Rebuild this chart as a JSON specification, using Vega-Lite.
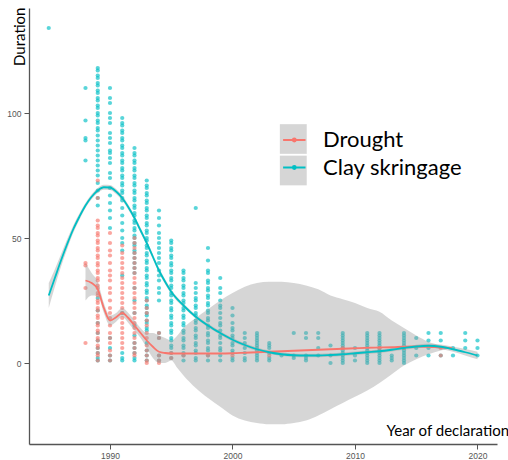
{
"$schema":"https://vega.github.io/schema/vega-lite/v6.json",
"width":468,"height":436,
"autosize":{"type":"none"},
"padding":{"left":29,"top":8,"right":11,"bottom":16},
"background":"white",
"config":{"view":{"stroke":null},
"axis":{"grid":false,"labelFont":"Liberation Sans","labelFontSize":8.5,"labelColor":"#555555","tickColor":"#555555","tickSize":5,"domainColor":"#555555","domainWidth":1.3,"titleFont":"Lato","titleFontSize":15,"titleFontWeight":"normal","titleColor":"#000000"},
"axisX":{"labelPadding":2,"titleAlign":"left","titleBaseline":"alphabetic","titleX":357,"titleY":-9,"titleAngle":0},
"axisY":{"labelPadding":3,"titleAngle":270,"titleAlign":"right","titleBaseline":"alphabetic","titleX":-5,"titleY":-1}
},
"datasets":{
"fits":[
{"year":1988,"series":"Drought","fit":33,"lo":25,"hi":40},
{"year":1988.5,"series":"Drought","fit":32,"lo":27,"hi":36},
{"year":1989,"series":"Drought","fit":29.5,"lo":27,"hi":32.5},
{"year":1989.5,"series":"Drought","fit":22,"lo":20,"hi":24},
{"year":1990,"series":"Drought","fit":17,"lo":15,"hi":19},
{"year":1990.5,"series":"Drought","fit":18.3,"lo":16.5,"hi":20},
{"year":1991,"series":"Drought","fit":20,"lo":18.5,"hi":22},
{"year":1991.5,"series":"Drought","fit":18,"lo":16,"hi":20},
{"year":1992,"series":"Drought","fit":15,"lo":13,"hi":17},
{"year":1992.5,"series":"Drought","fit":12,"lo":10,"hi":14},
{"year":1993,"series":"Drought","fit":9,"lo":6,"hi":12},
{"year":1993.5,"series":"Drought","fit":6.5,"lo":2,"hi":12},
{"year":1994,"series":"Drought","fit":4.5,"lo":0,"hi":11},
{"year":1994.5,"series":"Drought","fit":4,"lo":0,"hi":10},
{"year":1995,"series":"Drought","fit":3.8,"lo":1,"hi":9},
{"year":1995.5,"series":"Drought","fit":3.8,"lo":-2,"hi":11},
{"year":1996,"series":"Drought","fit":3.8,"lo":-5,"hi":14},
{"year":1997,"series":"Drought","fit":3.8,"lo":-10,"hi":18},
{"year":1998,"series":"Drought","fit":3.8,"lo":-14,"hi":21.5},
{"year":1999,"series":"Drought","fit":3.8,"lo":-17.5,"hi":25},
{"year":2000,"series":"Drought","fit":3.9,"lo":-21,"hi":28},
{"year":2001,"series":"Drought","fit":4.1,"lo":-23,"hi":30.5},
{"year":2002,"series":"Drought","fit":4.3,"lo":-24,"hi":32},
{"year":2003,"series":"Drought","fit":4.5,"lo":-24.5,"hi":32.5},
{"year":2004,"series":"Drought","fit":4.7,"lo":-24.5,"hi":32.5},
{"year":2005,"series":"Drought","fit":4.9,"lo":-24,"hi":32},
{"year":2006,"series":"Drought","fit":5.1,"lo":-23,"hi":31},
{"year":2007,"series":"Drought","fit":5.3,"lo":-21,"hi":29.5},
{"year":2008,"series":"Drought","fit":5.5,"lo":-18.5,"hi":27},
{"year":2009,"series":"Drought","fit":5.7,"lo":-16,"hi":25.5},
{"year":2010,"series":"Drought","fit":5.9,"lo":-13.5,"hi":24},
{"year":2011,"series":"Drought","fit":6.1,"lo":-11,"hi":22},
{"year":2012,"series":"Drought","fit":6.2,"lo":-8,"hi":20.5},
{"year":2013,"series":"Drought","fit":6.3,"lo":-4.5,"hi":17},
{"year":2014,"series":"Drought","fit":6.5,"lo":-1,"hi":14},
{"year":2015,"series":"Drought","fit":6.6,"lo":1.5,"hi":11},
{"year":2016,"series":"Drought","fit":6.5,"lo":3.5,"hi":8.5},
{"year":2017,"series":"Drought","fit":6.2,"lo":5,"hi":7},
{"year":2017.9,"series":"Drought","fit":6,"lo":6,"hi":6},
{"year":1985,"series":"Clay skringage","fit":27,"lo":22,"hi":32},
{"year":1985.5,"series":"Clay skringage","fit":34,"lo":30.5,"hi":37.5},
{"year":1986,"series":"Clay skringage","fit":41,"lo":38.5,"hi":43.5},
{"year":1986.5,"series":"Clay skringage","fit":47.5,"lo":45.5,"hi":49.5},
{"year":1987,"series":"Clay skringage","fit":53.5,"lo":52,"hi":55},
{"year":1987.5,"series":"Clay skringage","fit":58.5,"lo":57.2,"hi":59.8},
{"year":1988,"series":"Clay skringage","fit":63,"lo":62,"hi":64},
{"year":1988.5,"series":"Clay skringage","fit":66.5,"lo":65.5,"hi":67.5},
{"year":1989,"series":"Clay skringage","fit":69,"lo":68,"hi":70},
{"year":1989.5,"series":"Clay skringage","fit":70.3,"lo":69.3,"hi":71.3},
{"year":1990,"series":"Clay skringage","fit":70.2,"lo":69.2,"hi":71.2},
{"year":1990.5,"series":"Clay skringage","fit":68.6,"lo":67.6,"hi":69.6},
{"year":1991,"series":"Clay skringage","fit":66,"lo":65,"hi":67},
{"year":1991.5,"series":"Clay skringage","fit":62.3,"lo":61.3,"hi":63.3},
{"year":1992,"series":"Clay skringage","fit":58,"lo":57,"hi":59},
{"year":1992.5,"series":"Clay skringage","fit":53,"lo":52,"hi":54},
{"year":1993,"series":"Clay skringage","fit":48,"lo":47,"hi":49},
{"year":1993.5,"series":"Clay skringage","fit":42.5,"lo":41.5,"hi":43.5},
{"year":1994,"series":"Clay skringage","fit":37,"lo":36,"hi":38},
{"year":1994.5,"series":"Clay skringage","fit":32.5,"lo":31.5,"hi":33.5},
{"year":1995,"series":"Clay skringage","fit":28.5,"lo":27.6,"hi":29.4},
{"year":1996,"series":"Clay skringage","fit":23,"lo":22.2,"hi":23.8},
{"year":1997,"series":"Clay skringage","fit":18.5,"lo":17.8,"hi":19.2},
{"year":1998,"series":"Clay skringage","fit":15,"lo":14.3,"hi":15.7},
{"year":1999,"series":"Clay skringage","fit":12,"lo":11.3,"hi":12.7},
{"year":2000,"series":"Clay skringage","fit":9.3,"lo":8.6,"hi":10},
{"year":2001,"series":"Clay skringage","fit":7.2,"lo":6.5,"hi":7.9},
{"year":2002,"series":"Clay skringage","fit":5.5,"lo":4.8,"hi":6.2},
{"year":2003,"series":"Clay skringage","fit":4.3,"lo":3.6,"hi":5},
{"year":2004,"series":"Clay skringage","fit":3.5,"lo":2.8,"hi":4.2},
{"year":2005,"series":"Clay skringage","fit":3.1,"lo":2.4,"hi":3.8},
{"year":2006,"series":"Clay skringage","fit":3,"lo":2.3,"hi":3.7},
{"year":2007,"series":"Clay skringage","fit":3,"lo":2.3,"hi":3.7},
{"year":2008,"series":"Clay skringage","fit":3.2,"lo":2.5,"hi":3.9},
{"year":2009,"series":"Clay skringage","fit":3.5,"lo":2.8,"hi":4.2},
{"year":2010,"series":"Clay skringage","fit":3.9,"lo":3.2,"hi":4.6},
{"year":2011,"series":"Clay skringage","fit":4.3,"lo":3.6,"hi":5},
{"year":2012,"series":"Clay skringage","fit":4.7,"lo":4,"hi":5.4},
{"year":2013,"series":"Clay skringage","fit":5.3,"lo":4.6,"hi":6},
{"year":2014,"series":"Clay skringage","fit":6,"lo":5.3,"hi":6.7},
{"year":2015,"series":"Clay skringage","fit":6.6,"lo":5.9,"hi":7.3},
{"year":2016,"series":"Clay skringage","fit":6.9,"lo":6.1,"hi":7.7},
{"year":2017,"series":"Clay skringage","fit":6.5,"lo":5.6,"hi":7.4},
{"year":2018,"series":"Clay skringage","fit":5.5,"lo":4.5,"hi":6.5},
{"year":2019,"series":"Clay skringage","fit":4.3,"lo":3,"hi":5.6},
{"year":2020,"series":"Clay skringage","fit":3,"lo":1.5,"hi":4.5}
],
"pts":[
{"year":1985,"duration":134,"type":"Clay skringage"},
{"year":1988,"duration":110,"type":"Clay skringage"},{"year":1988,"duration":97,"type":"Clay skringage"},{"year":1988,"duration":90,"type":"Clay skringage"},{"year":1988,"duration":89,"type":"Clay skringage"},{"year":1988,"duration":81,"type":"Clay skringage"},
{"year":1989,"duration":118,"type":"Clay skringage"},{"year":1989,"duration":117,"type":"Clay skringage"},{"year":1989,"duration":115,"type":"Clay skringage"},{"year":1989,"duration":114,"type":"Clay skringage"},{"year":1989,"duration":112,"type":"Clay skringage"},{"year":1989,"duration":111,"type":"Clay skringage"},{"year":1989,"duration":109,"type":"Clay skringage"},{"year":1989,"duration":108,"type":"Clay skringage"},{"year":1989,"duration":106,"type":"Clay skringage"},{"year":1989,"duration":105,"type":"Clay skringage"},{"year":1989,"duration":103,"type":"Clay skringage"},{"year":1989,"duration":102,"type":"Clay skringage"},{"year":1989,"duration":100,"type":"Clay skringage"},{"year":1989,"duration":99,"type":"Clay skringage"},{"year":1989,"duration":97,"type":"Clay skringage"},{"year":1989,"duration":96,"type":"Clay skringage"},{"year":1989,"duration":94,"type":"Clay skringage"},{"year":1989,"duration":93,"type":"Clay skringage"},{"year":1989,"duration":91,"type":"Clay skringage"},{"year":1989,"duration":89,"type":"Clay skringage"},{"year":1989,"duration":87,"type":"Clay skringage"},{"year":1989,"duration":85,"type":"Clay skringage"},{"year":1989,"duration":83,"type":"Clay skringage"},{"year":1989,"duration":81,"type":"Clay skringage"},{"year":1989,"duration":79,"type":"Clay skringage"},{"year":1989,"duration":77,"type":"Clay skringage"},{"year":1989,"duration":75,"type":"Clay skringage"},{"year":1989,"duration":72,"type":"Clay skringage"},{"year":1989,"duration":69,"type":"Clay skringage"},{"year":1989,"duration":66,"type":"Clay skringage"},{"year":1989,"duration":63,"type":"Clay skringage"},{"year":1989,"duration":26,"type":"Clay skringage"},{"year":1989,"duration":21,"type":"Clay skringage"},{"year":1989,"duration":16,"type":"Clay skringage"},{"year":1989,"duration":12,"type":"Clay skringage"},{"year":1989,"duration":9,"type":"Clay skringage"},{"year":1989,"duration":6,"type":"Clay skringage"},{"year":1989,"duration":4,"type":"Clay skringage"},{"year":1989,"duration":2,"type":"Clay skringage"},{"year":1989,"duration":1,"type":"Clay skringage"},
{"year":1990,"duration":110,"type":"Clay skringage"},{"year":1990,"duration":106,"type":"Clay skringage"},{"year":1990,"duration":104,"type":"Clay skringage"},{"year":1990,"duration":100,"type":"Clay skringage"},{"year":1990,"duration":98,"type":"Clay skringage"},{"year":1990,"duration":96,"type":"Clay skringage"},{"year":1990,"duration":92,"type":"Clay skringage"},{"year":1990,"duration":90,"type":"Clay skringage"},{"year":1990,"duration":88,"type":"Clay skringage"},{"year":1990,"duration":85,"type":"Clay skringage"},{"year":1990,"duration":84,"type":"Clay skringage"},{"year":1990,"duration":82,"type":"Clay skringage"},{"year":1990,"duration":80,"type":"Clay skringage"},{"year":1990,"duration":76,"type":"Clay skringage"},{"year":1990,"duration":74,"type":"Clay skringage"},{"year":1990,"duration":70,"type":"Clay skringage"},{"year":1990,"duration":67,"type":"Clay skringage"},{"year":1990,"duration":64,"type":"Clay skringage"},{"year":1990,"duration":61,"type":"Clay skringage"},{"year":1990,"duration":58,"type":"Clay skringage"},{"year":1990,"duration":54,"type":"Clay skringage"},{"year":1990,"duration":10,"type":"Clay skringage"},{"year":1990,"duration":6,"type":"Clay skringage"},{"year":1990,"duration":3,"type":"Clay skringage"},{"year":1990,"duration":1,"type":"Clay skringage"},
{"year":1991,"duration":98,"type":"Clay skringage"},{"year":1991,"duration":96,"type":"Clay skringage"},{"year":1991,"duration":95,"type":"Clay skringage"},{"year":1991,"duration":93,"type":"Clay skringage"},{"year":1991,"duration":92,"type":"Clay skringage"},{"year":1991,"duration":90,"type":"Clay skringage"},{"year":1991,"duration":89,"type":"Clay skringage"},{"year":1991,"duration":87,"type":"Clay skringage"},{"year":1991,"duration":86,"type":"Clay skringage"},{"year":1991,"duration":84,"type":"Clay skringage"},{"year":1991,"duration":83,"type":"Clay skringage"},{"year":1991,"duration":81,"type":"Clay skringage"},{"year":1991,"duration":80,"type":"Clay skringage"},{"year":1991,"duration":78,"type":"Clay skringage"},{"year":1991,"duration":77,"type":"Clay skringage"},{"year":1991,"duration":75,"type":"Clay skringage"},{"year":1991,"duration":74,"type":"Clay skringage"},{"year":1991,"duration":72,"type":"Clay skringage"},{"year":1991,"duration":71,"type":"Clay skringage"},{"year":1991,"duration":69,"type":"Clay skringage"},{"year":1991,"duration":68,"type":"Clay skringage"},{"year":1991,"duration":66,"type":"Clay skringage"},{"year":1991,"duration":65,"type":"Clay skringage"},{"year":1991,"duration":62,"type":"Clay skringage"},{"year":1991,"duration":59,"type":"Clay skringage"},{"year":1991,"duration":56,"type":"Clay skringage"},{"year":1991,"duration":53,"type":"Clay skringage"},{"year":1991,"duration":50,"type":"Clay skringage"},{"year":1991,"duration":48,"type":"Clay skringage"},{"year":1991,"duration":45,"type":"Clay skringage"},{"year":1991,"duration":35,"type":"Clay skringage"},{"year":1991,"duration":20,"type":"Clay skringage"},{"year":1991,"duration":4,"type":"Clay skringage"},{"year":1991,"duration":2,"type":"Clay skringage"},{"year":1991,"duration":1,"type":"Clay skringage"},
{"year":1992,"duration":86,"type":"Clay skringage"},{"year":1992,"duration":84,"type":"Clay skringage"},{"year":1992,"duration":83,"type":"Clay skringage"},{"year":1992,"duration":81,"type":"Clay skringage"},{"year":1992,"duration":80,"type":"Clay skringage"},{"year":1992,"duration":78,"type":"Clay skringage"},{"year":1992,"duration":77,"type":"Clay skringage"},{"year":1992,"duration":75,"type":"Clay skringage"},{"year":1992,"duration":74,"type":"Clay skringage"},{"year":1992,"duration":72,"type":"Clay skringage"},{"year":1992,"duration":71,"type":"Clay skringage"},{"year":1992,"duration":69,"type":"Clay skringage"},{"year":1992,"duration":68,"type":"Clay skringage"},{"year":1992,"duration":66,"type":"Clay skringage"},{"year":1992,"duration":65,"type":"Clay skringage"},{"year":1992,"duration":63,"type":"Clay skringage"},{"year":1992,"duration":62,"type":"Clay skringage"},{"year":1992,"duration":60,"type":"Clay skringage"},{"year":1992,"duration":59,"type":"Clay skringage"},{"year":1992,"duration":57,"type":"Clay skringage"},{"year":1992,"duration":56,"type":"Clay skringage"},{"year":1992,"duration":54,"type":"Clay skringage"},{"year":1992,"duration":53,"type":"Clay skringage"},{"year":1992,"duration":51,"type":"Clay skringage"},{"year":1992,"duration":50,"type":"Clay skringage"},{"year":1992,"duration":48,"type":"Clay skringage"},{"year":1992,"duration":47,"type":"Clay skringage"},{"year":1992,"duration":45,"type":"Clay skringage"},{"year":1992,"duration":44,"type":"Clay skringage"},{"year":1992,"duration":42,"type":"Clay skringage"},{"year":1992,"duration":40,"type":"Clay skringage"},{"year":1992,"duration":38,"type":"Clay skringage"},{"year":1992,"duration":36,"type":"Clay skringage"},{"year":1992,"duration":30,"type":"Clay skringage"},{"year":1992,"duration":25,"type":"Clay skringage"},{"year":1992,"duration":20,"type":"Clay skringage"},{"year":1992,"duration":15,"type":"Clay skringage"},{"year":1992,"duration":11,"type":"Clay skringage"},{"year":1992,"duration":8,"type":"Clay skringage"},{"year":1992,"duration":6,"type":"Clay skringage"},{"year":1992,"duration":4,"type":"Clay skringage"},{"year":1992,"duration":2,"type":"Clay skringage"},{"year":1992,"duration":1,"type":"Clay skringage"},
{"year":1993,"duration":73,"type":"Clay skringage"},{"year":1993,"duration":71,"type":"Clay skringage"},{"year":1993,"duration":70,"type":"Clay skringage"},{"year":1993,"duration":68,"type":"Clay skringage"},{"year":1993,"duration":67,"type":"Clay skringage"},{"year":1993,"duration":65,"type":"Clay skringage"},{"year":1993,"duration":64,"type":"Clay skringage"},{"year":1993,"duration":62,"type":"Clay skringage"},{"year":1993,"duration":61,"type":"Clay skringage"},{"year":1993,"duration":59,"type":"Clay skringage"},{"year":1993,"duration":58,"type":"Clay skringage"},{"year":1993,"duration":56,"type":"Clay skringage"},{"year":1993,"duration":55,"type":"Clay skringage"},{"year":1993,"duration":53,"type":"Clay skringage"},{"year":1993,"duration":52,"type":"Clay skringage"},{"year":1993,"duration":50,"type":"Clay skringage"},{"year":1993,"duration":49,"type":"Clay skringage"},{"year":1993,"duration":47,"type":"Clay skringage"},{"year":1993,"duration":46,"type":"Clay skringage"},{"year":1993,"duration":44,"type":"Clay skringage"},{"year":1993,"duration":43,"type":"Clay skringage"},{"year":1993,"duration":41,"type":"Clay skringage"},{"year":1993,"duration":40,"type":"Clay skringage"},{"year":1993,"duration":38,"type":"Clay skringage"},{"year":1993,"duration":37,"type":"Clay skringage"},{"year":1993,"duration":35,"type":"Clay skringage"},{"year":1993,"duration":34,"type":"Clay skringage"},{"year":1993,"duration":32,"type":"Clay skringage"},{"year":1993,"duration":31,"type":"Clay skringage"},{"year":1993,"duration":29,"type":"Clay skringage"},{"year":1993,"duration":28,"type":"Clay skringage"},{"year":1993,"duration":26,"type":"Clay skringage"},{"year":1993,"duration":25,"type":"Clay skringage"},{"year":1993,"duration":23,"type":"Clay skringage"},{"year":1993,"duration":22,"type":"Clay skringage"},{"year":1993,"duration":20,"type":"Clay skringage"},{"year":1993,"duration":19,"type":"Clay skringage"},{"year":1993,"duration":17,"type":"Clay skringage"},{"year":1993,"duration":16,"type":"Clay skringage"},{"year":1993,"duration":14,"type":"Clay skringage"},{"year":1993,"duration":13,"type":"Clay skringage"},{"year":1993,"duration":8,"type":"Clay skringage"},{"year":1993,"duration":5,"type":"Clay skringage"},{"year":1993,"duration":3,"type":"Clay skringage"},{"year":1993,"duration":1,"type":"Clay skringage"},
{"year":1994,"duration":61,"type":"Clay skringage"},{"year":1994,"duration":58,"type":"Clay skringage"},{"year":1994,"duration":55,"type":"Clay skringage"},{"year":1994,"duration":52,"type":"Clay skringage"},{"year":1994,"duration":50,"type":"Clay skringage"},{"year":1994,"duration":48,"type":"Clay skringage"},{"year":1994,"duration":46,"type":"Clay skringage"},{"year":1994,"duration":44,"type":"Clay skringage"},{"year":1994,"duration":42,"type":"Clay skringage"},{"year":1994,"duration":40,"type":"Clay skringage"},{"year":1994,"duration":37,"type":"Clay skringage"},{"year":1994,"duration":35,"type":"Clay skringage"},{"year":1994,"duration":33,"type":"Clay skringage"},{"year":1994,"duration":30,"type":"Clay skringage"},{"year":1994,"duration":28,"type":"Clay skringage"},{"year":1994,"duration":25,"type":"Clay skringage"},{"year":1994,"duration":12,"type":"Clay skringage"},{"year":1994,"duration":10,"type":"Clay skringage"},{"year":1994,"duration":3,"type":"Clay skringage"},{"year":1994,"duration":1,"type":"Clay skringage"},
{"year":1995,"duration":49,"type":"Clay skringage"},{"year":1995,"duration":48,"type":"Clay skringage"},{"year":1995,"duration":46,"type":"Clay skringage"},{"year":1995,"duration":45,"type":"Clay skringage"},{"year":1995,"duration":43,"type":"Clay skringage"},{"year":1995,"duration":42,"type":"Clay skringage"},{"year":1995,"duration":40,"type":"Clay skringage"},{"year":1995,"duration":39,"type":"Clay skringage"},{"year":1995,"duration":37,"type":"Clay skringage"},{"year":1995,"duration":36,"type":"Clay skringage"},{"year":1995,"duration":34,"type":"Clay skringage"},{"year":1995,"duration":33,"type":"Clay skringage"},{"year":1995,"duration":31,"type":"Clay skringage"},{"year":1995,"duration":30,"type":"Clay skringage"},{"year":1995,"duration":28,"type":"Clay skringage"},{"year":1995,"duration":27,"type":"Clay skringage"},{"year":1995,"duration":25,"type":"Clay skringage"},{"year":1995,"duration":24,"type":"Clay skringage"},{"year":1995,"duration":22,"type":"Clay skringage"},{"year":1995,"duration":21,"type":"Clay skringage"},{"year":1995,"duration":19,"type":"Clay skringage"},{"year":1995,"duration":18,"type":"Clay skringage"},{"year":1995,"duration":16,"type":"Clay skringage"},{"year":1995,"duration":15,"type":"Clay skringage"},{"year":1995,"duration":13,"type":"Clay skringage"},{"year":1995,"duration":12,"type":"Clay skringage"},{"year":1995,"duration":10,"type":"Clay skringage"},{"year":1995,"duration":9,"type":"Clay skringage"},{"year":1995,"duration":7,"type":"Clay skringage"},{"year":1995,"duration":6,"type":"Clay skringage"},{"year":1995,"duration":4,"type":"Clay skringage"},{"year":1995,"duration":2,"type":"Clay skringage"},
{"year":1996,"duration":37,"type":"Clay skringage"},{"year":1996,"duration":36,"type":"Clay skringage"},{"year":1996,"duration":34,"type":"Clay skringage"},{"year":1996,"duration":33,"type":"Clay skringage"},{"year":1996,"duration":31,"type":"Clay skringage"},{"year":1996,"duration":30,"type":"Clay skringage"},{"year":1996,"duration":28,"type":"Clay skringage"},{"year":1996,"duration":27,"type":"Clay skringage"},{"year":1996,"duration":25,"type":"Clay skringage"},{"year":1996,"duration":24,"type":"Clay skringage"},{"year":1996,"duration":22,"type":"Clay skringage"},{"year":1996,"duration":21,"type":"Clay skringage"},{"year":1996,"duration":19,"type":"Clay skringage"},{"year":1996,"duration":18,"type":"Clay skringage"},{"year":1996,"duration":16,"type":"Clay skringage"},{"year":1996,"duration":15,"type":"Clay skringage"},{"year":1996,"duration":13,"type":"Clay skringage"},{"year":1996,"duration":12,"type":"Clay skringage"},{"year":1996,"duration":10,"type":"Clay skringage"},{"year":1996,"duration":9,"type":"Clay skringage"},{"year":1996,"duration":7,"type":"Clay skringage"},{"year":1996,"duration":6,"type":"Clay skringage"},{"year":1996,"duration":4,"type":"Clay skringage"},{"year":1996,"duration":3,"type":"Clay skringage"},{"year":1996,"duration":1,"type":"Clay skringage"},
{"year":1997,"duration":62,"type":"Clay skringage"},{"year":1997,"duration":32,"type":"Clay skringage"},{"year":1997,"duration":30,"type":"Clay skringage"},{"year":1997,"duration":28,"type":"Clay skringage"},{"year":1997,"duration":26,"type":"Clay skringage"},{"year":1997,"duration":25,"type":"Clay skringage"},{"year":1997,"duration":23,"type":"Clay skringage"},{"year":1997,"duration":22,"type":"Clay skringage"},{"year":1997,"duration":20,"type":"Clay skringage"},{"year":1997,"duration":19,"type":"Clay skringage"},{"year":1997,"duration":17,"type":"Clay skringage"},{"year":1997,"duration":16,"type":"Clay skringage"},{"year":1997,"duration":14,"type":"Clay skringage"},{"year":1997,"duration":13,"type":"Clay skringage"},{"year":1997,"duration":11,"type":"Clay skringage"},{"year":1997,"duration":10,"type":"Clay skringage"},{"year":1997,"duration":8,"type":"Clay skringage"},{"year":1997,"duration":7,"type":"Clay skringage"},{"year":1997,"duration":5,"type":"Clay skringage"},{"year":1997,"duration":4,"type":"Clay skringage"},{"year":1997,"duration":2,"type":"Clay skringage"},{"year":1997,"duration":1,"type":"Clay skringage"},
{"year":1998,"duration":46,"type":"Clay skringage"},{"year":1998,"duration":41,"type":"Clay skringage"},{"year":1998,"duration":37,"type":"Clay skringage"},{"year":1998,"duration":36,"type":"Clay skringage"},{"year":1998,"duration":33,"type":"Clay skringage"},{"year":1998,"duration":32,"type":"Clay skringage"},{"year":1998,"duration":30,"type":"Clay skringage"},{"year":1998,"duration":29,"type":"Clay skringage"},{"year":1998,"duration":27,"type":"Clay skringage"},{"year":1998,"duration":26,"type":"Clay skringage"},{"year":1998,"duration":24,"type":"Clay skringage"},{"year":1998,"duration":23,"type":"Clay skringage"},{"year":1998,"duration":21,"type":"Clay skringage"},{"year":1998,"duration":20,"type":"Clay skringage"},{"year":1998,"duration":18,"type":"Clay skringage"},{"year":1998,"duration":17,"type":"Clay skringage"},{"year":1998,"duration":15,"type":"Clay skringage"},{"year":1998,"duration":14,"type":"Clay skringage"},{"year":1998,"duration":12,"type":"Clay skringage"},{"year":1998,"duration":11,"type":"Clay skringage"},{"year":1998,"duration":9,"type":"Clay skringage"},{"year":1998,"duration":8,"type":"Clay skringage"},{"year":1998,"duration":6,"type":"Clay skringage"},{"year":1998,"duration":5,"type":"Clay skringage"},{"year":1998,"duration":3,"type":"Clay skringage"},{"year":1998,"duration":1,"type":"Clay skringage"},
{"year":1999,"duration":34,"type":"Clay skringage"},{"year":1999,"duration":30,"type":"Clay skringage"},{"year":1999,"duration":28,"type":"Clay skringage"},{"year":1999,"duration":25,"type":"Clay skringage"},{"year":1999,"duration":23,"type":"Clay skringage"},{"year":1999,"duration":22,"type":"Clay skringage"},{"year":1999,"duration":20,"type":"Clay skringage"},{"year":1999,"duration":18,"type":"Clay skringage"},{"year":1999,"duration":16,"type":"Clay skringage"},{"year":1999,"duration":15,"type":"Clay skringage"},{"year":1999,"duration":13,"type":"Clay skringage"},{"year":1999,"duration":11,"type":"Clay skringage"},{"year":1999,"duration":10,"type":"Clay skringage"},{"year":1999,"duration":8,"type":"Clay skringage"},{"year":1999,"duration":6,"type":"Clay skringage"},{"year":1999,"duration":5,"type":"Clay skringage"},{"year":1999,"duration":3,"type":"Clay skringage"},{"year":1999,"duration":1,"type":"Clay skringage"},
{"year":2000,"duration":22,"type":"Clay skringage"},{"year":2000,"duration":19,"type":"Clay skringage"},{"year":2000,"duration":16,"type":"Clay skringage"},{"year":2000,"duration":14,"type":"Clay skringage"},{"year":2000,"duration":13,"type":"Clay skringage"},{"year":2000,"duration":11,"type":"Clay skringage"},{"year":2000,"duration":10,"type":"Clay skringage"},{"year":2000,"duration":8,"type":"Clay skringage"},{"year":2000,"duration":7,"type":"Clay skringage"},{"year":2000,"duration":5,"type":"Clay skringage"},{"year":2000,"duration":4,"type":"Clay skringage"},{"year":2000,"duration":2,"type":"Clay skringage"},{"year":2000,"duration":1,"type":"Clay skringage"},
{"year":2001,"duration":12,"type":"Clay skringage"},{"year":2001,"duration":10,"type":"Clay skringage"},{"year":2001,"duration":8,"type":"Clay skringage"},{"year":2001,"duration":6,"type":"Clay skringage"},{"year":2001,"duration":4,"type":"Clay skringage"},{"year":2001,"duration":2,"type":"Clay skringage"},{"year":2001,"duration":1,"type":"Clay skringage"},
{"year":2002,"duration":12,"type":"Clay skringage"},{"year":2002,"duration":11,"type":"Clay skringage"},{"year":2002,"duration":10,"type":"Clay skringage"},{"year":2002,"duration":9,"type":"Clay skringage"},{"year":2002,"duration":8,"type":"Clay skringage"},{"year":2002,"duration":7,"type":"Clay skringage"},{"year":2002,"duration":6,"type":"Clay skringage"},{"year":2002,"duration":5,"type":"Clay skringage"},{"year":2002,"duration":4,"type":"Clay skringage"},{"year":2002,"duration":3,"type":"Clay skringage"},{"year":2002,"duration":2,"type":"Clay skringage"},{"year":2002,"duration":1,"type":"Clay skringage"},
{"year":2003,"duration":8,"type":"Clay skringage"},{"year":2003,"duration":7,"type":"Clay skringage"},{"year":2003,"duration":6,"type":"Clay skringage"},{"year":2003,"duration":4,"type":"Clay skringage"},{"year":2003,"duration":2,"type":"Clay skringage"},{"year":2003,"duration":1,"type":"Clay skringage"},
{"year":2004,"duration":3,"type":"Clay skringage"},
{"year":2005,"duration":12,"type":"Clay skringage"},{"year":2005,"duration":3,"type":"Clay skringage"},{"year":2005,"duration":2,"type":"Clay skringage"},
{"year":2006,"duration":12,"type":"Clay skringage"},{"year":2006,"duration":10,"type":"Clay skringage"},{"year":2006,"duration":3,"type":"Clay skringage"},{"year":2006,"duration":2,"type":"Clay skringage"},{"year":2006,"duration":1,"type":"Clay skringage"},
{"year":2007,"duration":12,"type":"Clay skringage"},{"year":2007,"duration":10,"type":"Clay skringage"},{"year":2007,"duration":6,"type":"Clay skringage"},{"year":2007,"duration":3,"type":"Clay skringage"},
{"year":2008,"duration":7,"type":"Clay skringage"},{"year":2008,"duration":3,"type":"Clay skringage"},{"year":2008,"duration":0,"type":"Clay skringage"},
{"year":2009,"duration":12,"type":"Clay skringage"},{"year":2009,"duration":11,"type":"Clay skringage"},{"year":2009,"duration":10,"type":"Clay skringage"},{"year":2009,"duration":9,"type":"Clay skringage"},{"year":2009,"duration":8,"type":"Clay skringage"},{"year":2009,"duration":7,"type":"Clay skringage"},{"year":2009,"duration":6,"type":"Clay skringage"},{"year":2009,"duration":5,"type":"Clay skringage"},{"year":2009,"duration":4,"type":"Clay skringage"},{"year":2009,"duration":3,"type":"Clay skringage"},{"year":2009,"duration":2,"type":"Clay skringage"},{"year":2009,"duration":1,"type":"Clay skringage"},{"year":2009,"duration":0,"type":"Clay skringage"},
{"year":2010,"duration":6,"type":"Clay skringage"},{"year":2010,"duration":3,"type":"Clay skringage"},{"year":2010,"duration":1,"type":"Clay skringage"},
{"year":2011,"duration":12,"type":"Clay skringage"},{"year":2011,"duration":11,"type":"Clay skringage"},{"year":2011,"duration":10,"type":"Clay skringage"},{"year":2011,"duration":9,"type":"Clay skringage"},{"year":2011,"duration":8,"type":"Clay skringage"},{"year":2011,"duration":7,"type":"Clay skringage"},{"year":2011,"duration":6,"type":"Clay skringage"},{"year":2011,"duration":5,"type":"Clay skringage"},{"year":2011,"duration":4,"type":"Clay skringage"},{"year":2011,"duration":3,"type":"Clay skringage"},{"year":2011,"duration":2,"type":"Clay skringage"},{"year":2011,"duration":1,"type":"Clay skringage"},{"year":2011,"duration":0,"type":"Clay skringage"},
{"year":2012,"duration":12,"type":"Clay skringage"},{"year":2012,"duration":11,"type":"Clay skringage"},{"year":2012,"duration":10,"type":"Clay skringage"},{"year":2012,"duration":9,"type":"Clay skringage"},{"year":2012,"duration":8,"type":"Clay skringage"},{"year":2012,"duration":7,"type":"Clay skringage"},{"year":2012,"duration":6,"type":"Clay skringage"},{"year":2012,"duration":5,"type":"Clay skringage"},{"year":2012,"duration":4,"type":"Clay skringage"},{"year":2012,"duration":3,"type":"Clay skringage"},{"year":2012,"duration":2,"type":"Clay skringage"},{"year":2012,"duration":1,"type":"Clay skringage"},{"year":2012,"duration":0,"type":"Clay skringage"},
{"year":2013,"duration":3,"type":"Clay skringage"},{"year":2013,"duration":2,"type":"Clay skringage"},{"year":2013,"duration":1,"type":"Clay skringage"},
{"year":2014,"duration":12,"type":"Clay skringage"},{"year":2014,"duration":11,"type":"Clay skringage"},{"year":2014,"duration":10,"type":"Clay skringage"},{"year":2014,"duration":9,"type":"Clay skringage"},{"year":2014,"duration":8,"type":"Clay skringage"},{"year":2014,"duration":7,"type":"Clay skringage"},{"year":2014,"duration":6,"type":"Clay skringage"},{"year":2014,"duration":5,"type":"Clay skringage"},{"year":2014,"duration":4,"type":"Clay skringage"},{"year":2014,"duration":3,"type":"Clay skringage"},{"year":2014,"duration":2,"type":"Clay skringage"},{"year":2014,"duration":1,"type":"Clay skringage"},{"year":2014,"duration":0,"type":"Clay skringage"},
{"year":2015,"duration":10,"type":"Clay skringage"},{"year":2015,"duration":6,"type":"Clay skringage"},{"year":2015,"duration":3,"type":"Clay skringage"},
{"year":2016,"duration":12,"type":"Clay skringage"},{"year":2016,"duration":9,"type":"Clay skringage"},{"year":2016,"duration":6,"type":"Clay skringage"},{"year":2016,"duration":3,"type":"Clay skringage"},
{"year":2017,"duration":12,"type":"Clay skringage"},{"year":2017,"duration":9,"type":"Clay skringage"},{"year":2017,"duration":3,"type":"Clay skringage"},
{"year":2018,"duration":6,"type":"Clay skringage"},{"year":2018,"duration":3,"type":"Clay skringage"},
{"year":2019,"duration":12,"type":"Clay skringage"},{"year":2019,"duration":9,"type":"Clay skringage"},{"year":2019,"duration":6,"type":"Clay skringage"},
{"year":2020,"duration":9,"type":"Clay skringage"},{"year":2020,"duration":6,"type":"Clay skringage"},{"year":2020,"duration":3,"type":"Clay skringage"},
{"year":1988,"duration":40,"type":"Drought"},{"year":1988,"duration":39,"type":"Drought"},{"year":1988,"duration":30,"type":"Drought"},{"year":1988,"duration":8,"type":"Drought"},
{"year":1989,"duration":73,"type":"Drought"},{"year":1989,"duration":66,"type":"Drought"},{"year":1989,"duration":57,"type":"Drought"},{"year":1989,"duration":55,"type":"Drought"},{"year":1989,"duration":54,"type":"Drought"},{"year":1989,"duration":52,"type":"Drought"},{"year":1989,"duration":51,"type":"Drought"},{"year":1989,"duration":49,"type":"Drought"},{"year":1989,"duration":48,"type":"Drought"},{"year":1989,"duration":46,"type":"Drought"},{"year":1989,"duration":45,"type":"Drought"},{"year":1989,"duration":43,"type":"Drought"},{"year":1989,"duration":42,"type":"Drought"},{"year":1989,"duration":40,"type":"Drought"},{"year":1989,"duration":39,"type":"Drought"},{"year":1989,"duration":37,"type":"Drought"},{"year":1989,"duration":36,"type":"Drought"},{"year":1989,"duration":34,"type":"Drought"},{"year":1989,"duration":33,"type":"Drought"},{"year":1989,"duration":31,"type":"Drought"},{"year":1989,"duration":30,"type":"Drought"},{"year":1989,"duration":28,"type":"Drought"},{"year":1989,"duration":27,"type":"Drought"},{"year":1989,"duration":25,"type":"Drought"},{"year":1989,"duration":24,"type":"Drought"},{"year":1989,"duration":22,"type":"Drought"},{"year":1989,"duration":21,"type":"Drought"},{"year":1989,"duration":19,"type":"Drought"},{"year":1989,"duration":18,"type":"Drought"},{"year":1989,"duration":16,"type":"Drought"},{"year":1989,"duration":15,"type":"Drought"},{"year":1989,"duration":13,"type":"Drought"},{"year":1989,"duration":12,"type":"Drought"},{"year":1989,"duration":10,"type":"Drought"},{"year":1989,"duration":9,"type":"Drought"},{"year":1989,"duration":7,"type":"Drought"},{"year":1989,"duration":6,"type":"Drought"},{"year":1989,"duration":4,"type":"Drought"},{"year":1989,"duration":3,"type":"Drought"},{"year":1989,"duration":1,"type":"Drought"},
{"year":1990,"duration":52,"type":"Drought"},{"year":1990,"duration":48,"type":"Drought"},{"year":1990,"duration":45,"type":"Drought"},{"year":1990,"duration":43,"type":"Drought"},{"year":1990,"duration":40,"type":"Drought"},{"year":1990,"duration":37,"type":"Drought"},{"year":1990,"duration":35,"type":"Drought"},{"year":1990,"duration":33,"type":"Drought"},{"year":1990,"duration":30,"type":"Drought"},{"year":1990,"duration":28,"type":"Drought"},{"year":1990,"duration":25,"type":"Drought"},{"year":1990,"duration":22,"type":"Drought"},{"year":1990,"duration":20,"type":"Drought"},{"year":1990,"duration":18,"type":"Drought"},{"year":1990,"duration":15,"type":"Drought"},{"year":1990,"duration":12,"type":"Drought"},{"year":1990,"duration":10,"type":"Drought"},{"year":1990,"duration":8,"type":"Drought"},{"year":1990,"duration":5,"type":"Drought"},{"year":1990,"duration":3,"type":"Drought"},{"year":1990,"duration":1,"type":"Drought"},
{"year":1991,"duration":47,"type":"Drought"},{"year":1991,"duration":44,"type":"Drought"},{"year":1991,"duration":42,"type":"Drought"},{"year":1991,"duration":40,"type":"Drought"},{"year":1991,"duration":38,"type":"Drought"},{"year":1991,"duration":36,"type":"Drought"},{"year":1991,"duration":34,"type":"Drought"},{"year":1991,"duration":32,"type":"Drought"},{"year":1991,"duration":30,"type":"Drought"},{"year":1991,"duration":28,"type":"Drought"},{"year":1991,"duration":26,"type":"Drought"},{"year":1991,"duration":24,"type":"Drought"},{"year":1991,"duration":22,"type":"Drought"},{"year":1991,"duration":20,"type":"Drought"},{"year":1991,"duration":18,"type":"Drought"},{"year":1991,"duration":16,"type":"Drought"},{"year":1991,"duration":14,"type":"Drought"},{"year":1991,"duration":12,"type":"Drought"},{"year":1991,"duration":10,"type":"Drought"},{"year":1991,"duration":8,"type":"Drought"},{"year":1991,"duration":6,"type":"Drought"},
{"year":1992,"duration":50,"type":"Drought"},{"year":1992,"duration":48,"type":"Drought"},{"year":1992,"duration":46,"type":"Drought"},{"year":1992,"duration":44,"type":"Drought"},{"year":1992,"duration":42,"type":"Drought"},{"year":1992,"duration":40,"type":"Drought"},{"year":1992,"duration":38,"type":"Drought"},{"year":1992,"duration":36,"type":"Drought"},{"year":1992,"duration":34,"type":"Drought"},{"year":1992,"duration":32,"type":"Drought"},{"year":1992,"duration":30,"type":"Drought"},{"year":1992,"duration":28,"type":"Drought"},{"year":1992,"duration":26,"type":"Drought"},{"year":1992,"duration":24,"type":"Drought"},{"year":1992,"duration":22,"type":"Drought"},{"year":1992,"duration":20,"type":"Drought"},{"year":1992,"duration":18,"type":"Drought"},{"year":1992,"duration":16,"type":"Drought"},{"year":1992,"duration":14,"type":"Drought"},{"year":1992,"duration":12,"type":"Drought"},{"year":1992,"duration":10,"type":"Drought"},{"year":1992,"duration":8,"type":"Drought"},{"year":1992,"duration":6,"type":"Drought"},{"year":1992,"duration":4,"type":"Drought"},{"year":1992,"duration":3,"type":"Drought"},
{"year":1993,"duration":25,"type":"Drought"},{"year":1993,"duration":22,"type":"Drought"},{"year":1993,"duration":20,"type":"Drought"},{"year":1993,"duration":17,"type":"Drought"},{"year":1993,"duration":15,"type":"Drought"},{"year":1993,"duration":12,"type":"Drought"},{"year":1993,"duration":10,"type":"Drought"},{"year":1993,"duration":7,"type":"Drought"},{"year":1993,"duration":5,"type":"Drought"},{"year":1993,"duration":3,"type":"Drought"},{"year":1993,"duration":1,"type":"Drought"},{"year":1993,"duration":0,"type":"Drought"},
{"year":1994,"duration":12,"type":"Drought"},{"year":1994,"duration":10,"type":"Drought"},{"year":1994,"duration":3,"type":"Drought"},{"year":1994,"duration":1,"type":"Drought"},{"year":1994,"duration":0,"type":"Drought"},
{"year":1995,"duration":4,"type":"Drought"},{"year":1995,"duration":2,"type":"Drought"},
{"year":1996,"duration":3,"type":"Drought"},{"year":1998,"duration":3,"type":"Drought"},{"year":2000,"duration":3,"type":"Drought"},{"year":2003,"duration":3,"type":"Drought"},{"year":2009,"duration":6,"type":"Drought"},{"year":2012,"duration":6,"type":"Drought"},{"year":2014,"duration":6,"type":"Drought"},{"year":2017,"duration":3,"type":"Drought"},{"year":2017,"duration":6,"type":"Drought"}
]
},
"layer":[
{
"data":{"name":"pts"},
"mark":{"type":"circle","size":18,"opacity":0.65},
"encoding":{
"x":{"field":"year","type":"quantitative","scale":{"domain":[1983.388,2021.592],"nice":false,"zero":false},"axis":{"values":[1990,2000,2010,2020],"format":"d","title":"Year of declaration"}},
"y":{"field":"duration","type":"quantitative","scale":{"domain":[-32.4,142],"nice":false,"zero":false},"axis":{"values":[0,50,100],"title":"Duration"}},
"color":{"field":"type","type":"nominal","sort":"descending","scale":{"range":["#F8766D","#00BFC4"]},"legend":null}
}
},
{
"data":{"name":"fits"},
"mark":{"type":"area","opacity":0.4,"interpolate":"monotone"},
"encoding":{
"x":{"field":"year","type":"quantitative","axis":{"values":[1990,2000,2010,2020],"format":"d","title":"Year of declaration"}},
"y":{"field":"lo","type":"quantitative","axis":{"values":[0,50,100],"title":"Duration"}},
"y2":{"field":"hi"},
"fill":{"field":"series","type":"nominal","scale":{"range":["#999999","#999999"]},
"legend":{"orient":"none","legendX":250.3,"legendY":117,"direction":"vertical","title":null,"padding":0,"symbolSize":784,"symbolType":"M-0.96,-1.06H0.96V1.06H-0.96Z","symbolOpacity":0.4,"symbolStrokeWidth":0,"labelFontSize":10,"labelExpr":"''","labelOffset":2,"rowPadding":1.5,"zindex":0}}
}
},
{
"data":{"name":"fits"},
"mark":{"type":"line","strokeWidth":1.8,"interpolate":"monotone"},
"encoding":{
"x":{"field":"year","type":"quantitative","axis":{"values":[1990,2000,2010,2020],"format":"d","title":"Year of declaration"}},
"y":{"field":"fit","type":"quantitative","axis":{"values":[0,50,100],"title":"Duration"}},
"stroke":{"field":"series","type":"nominal","scale":{"domain":["Drought","Clay skringage"],"range":["#F8766D","#00BFC4"]},
"legend":{"orient":"none","legendX":250.3,"legendY":117,"direction":"vertical","title":null,"padding":0,"symbolSize":784,"symbolType":"M-0.8,0H0.8M0.1,0A0.1,0.1,0,1,1,-0.1,0A0.1,0.1,0,1,1,0.1,0","symbolStrokeWidth":2,"symbolOpacity":1,"labelFont":"Lato","labelFontSize":22,"labelColor":"#000000","labelOffset":13.7,"rowPadding":1.5,"zindex":1}}
}
}
]
}
